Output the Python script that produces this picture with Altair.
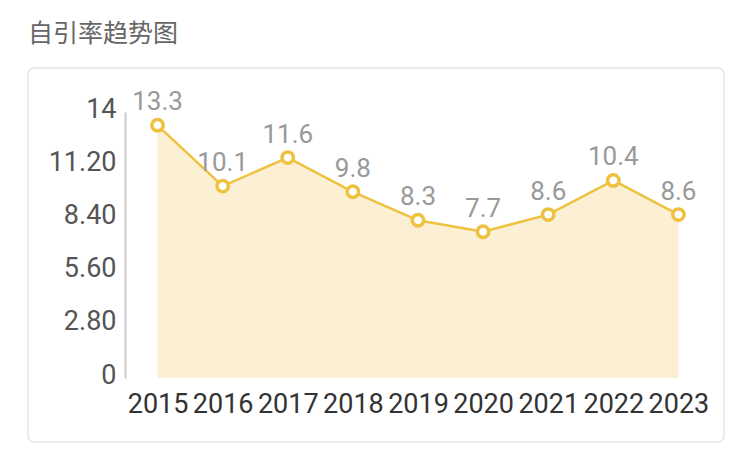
import altair as alt
import pandas as pd

years = ["2015", "2016", "2017", "2018", "2019", "2020", "2021", "2022", "2023"]
rates = [13.3, 10.1, 11.6, 9.8, 8.3, 7.7, 8.6, 10.4, 8.6]
y_ticks = [0, 2.8, 5.6, 8.4, 11.2, 14]
title_text = "自引率趋势图"

df = pd.DataFrame({"year": years, "rate": rates})

W, H = 586, 266
GOLD = "#EEC13F"
FILL = "#FBF0D4"

x_enc = alt.X("year:O", scale=alt.Scale(type="point", padding=0.5),
              axis=alt.Axis(title=None, labelAngle=0, domain=False, ticks=False,
                            labelFontSize=27, labelColor="#333333", labelFont="Roboto",
                            labelPadding=13, zindex=2))
y_enc = alt.Y("rate:Q", scale=alt.Scale(domain=[0, 14], nice=False),
              axis=alt.Axis(title=None, values=y_ticks, grid=False, ticks=False,
                            domainColor="#cccccc", domainWidth=2,
                            labelFontSize=27, labelColor="#555555", labelFont="Roboto",
                            labelPadding=9, labelOffset=-3, zindex=2,
                            labelExpr="datum.value == 0 ? '0' : (datum.value == 14 ? '14' : format(datum.value, '.2f'))"))

card = alt.Chart(pd.DataFrame({"k": [0]})).mark_rect(
    fill="white", stroke="#e6e6e6", strokeWidth=1.5, cornerRadius=6, clip=False
).encode(x=alt.value(-97), x2=alt.value(599), y=alt.value(-44), y2=alt.value(330))

title = alt.Chart(pd.DataFrame({"t": [title_text]})).mark_text(
    align="left", baseline="middle", fontSize=25, color="#666666",
    font="Noto Sans CJK SC"
).encode(x=alt.value(-97), y=alt.value(-78), text="t:N")

base = alt.Chart(df)
area = base.mark_area(color=FILL, opacity=1).encode(x=x_enc, y=y_enc)
line = base.mark_line(color=GOLD, strokeWidth=2.5).encode(x=x_enc, y=y_enc)
pts = base.mark_point(shape="circle", filled=True, fill="white", stroke=GOLD,
                      strokeWidth=3.5, size=130, opacity=1).encode(x=x_enc, y=y_enc)
labels = base.mark_text(dy=-23, fontSize=26, color="#999999", font="Roboto",
                        baseline="middle").encode(x=x_enc, y=y_enc, text=alt.Text("rate:Q", format=".1f"))

chart = alt.layer(card, title, area, line, pts, labels).properties(
    width=W, height=H,
    autosize=alt.AutoSizeParams(type="none"),
    padding={"left": 117, "top": 104, "right": 25, "bottom": 68},
).configure_view(stroke=None).configure(background="white")

chart.save("out.html", embed_options={"renderer": "svg", "actions": False})
